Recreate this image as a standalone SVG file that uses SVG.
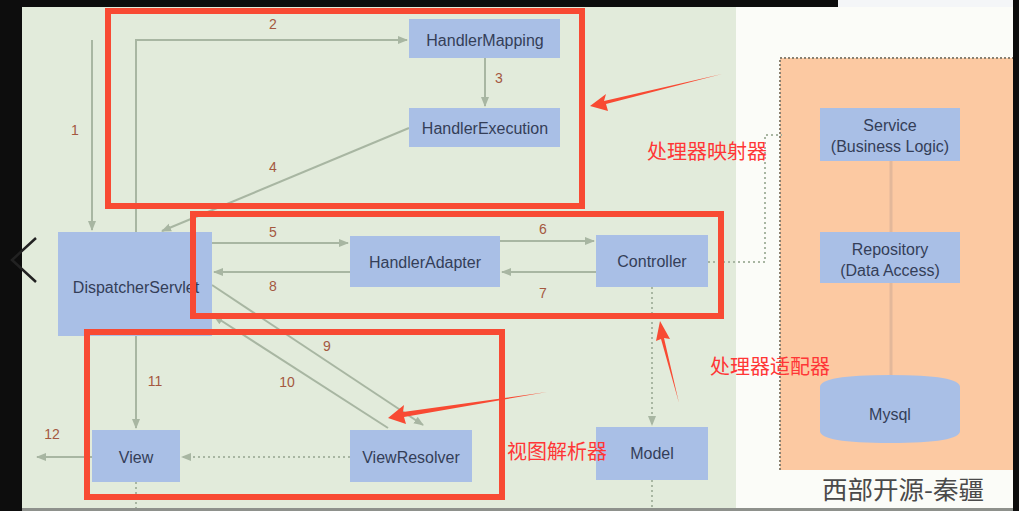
<svg xmlns="http://www.w3.org/2000/svg" width="1019" height="511" viewBox="0 0 1019 511">
<defs>
<style>
.node rect{fill:#a9bfe6;}
.lbl{font-family:"Liberation Sans",Arial,sans-serif;font-size:16px;fill:#343e58;text-anchor:middle;}
.num{font-family:"Liberation Sans",Arial,sans-serif;font-size:14px;fill:#a4583f;text-anchor:middle;}
.ln{stroke:#a8b6a2;stroke-width:2;fill:none;}
.dot{stroke:#a8b6a2;stroke-width:2;fill:none;stroke-dasharray:2 3;}
.red{fill:none;stroke:#f84a33;stroke-width:6;}
.cn{font-family:"Noto Sans CJK SC",sans-serif;font-size:20px;fill:#ff3636;}
</style>
<marker id="ah" viewBox="0 0 10 10" refX="9" refY="5" markerWidth="5" markerHeight="5" orient="auto"><path d="M0,1 L10,5 L0,9 z" fill="#a8b6a2"/></marker>
</defs>
<rect width="1019" height="511" fill="#0d0d0d"/>
<rect x="22" y="7" width="714" height="501" fill="#e2ebdb"/>
<rect x="736" y="7" width="277" height="501" fill="#fbfcf8"/>
<rect x="838" y="0" width="175" height="7" fill="#f4f6f8"/>
<rect x="780" y="58" width="233" height="412" fill="#fcc9a2"/>
<path d="M780,470 V58 H1013" fill="none" stroke="#8a8070" stroke-width="2" stroke-dasharray="2 2"/>
<rect x="22" y="508" width="991" height="3" fill="#8e918c"/>
<polyline points="36,238 12,260 36,282" fill="none" stroke="#222" stroke-width="2.5"/>

<g id="connectors">
<path class="ln" d="M92,40 V230" marker-end="url(#ah)"/>
<path class="ln" d="M136,232 V40 H407" marker-end="url(#ah)"/>
<path class="ln" d="M485,58 V106" marker-end="url(#ah)"/>
<path class="ln" d="M409,128 L162,231" marker-end="url(#ah)"/>
<path class="ln" d="M212,243 H348" marker-end="url(#ah)"/>
<path class="ln" d="M500,241 H594" marker-end="url(#ah)"/>
<path class="ln" d="M596,272 H502" marker-end="url(#ah)"/>
<path class="ln" d="M350,272 H214" marker-end="url(#ah)"/>
<path class="ln" d="M212,285 L423,425" marker-end="url(#ah)"/>
<path class="ln" d="M388,428 L214,316" marker-end="url(#ah)"/>
<path class="ln" d="M136,336 V428" marker-end="url(#ah)"/>
<path class="ln" d="M92,457 H37" marker-end="url(#ah)"/>
<path class="dot" d="M350,457 H182" marker-end="url(#ah)"/>
<path class="dot" d="M652,287 V425" marker-end="url(#ah)"/>
<path class="dot" d="M136,482 V508"/>
<path class="dot" d="M652,480 V508"/>
<path class="dot" d="M708,262 H765 V135 H782"/>
<path d="M891,161 V232 M891,283 V377" stroke="#e3b89a" stroke-width="3" fill="none"/>
</g>

<g id="n-handlermapping" class="node"><rect x="409" y="19" width="151" height="39"/><text class="lbl" x="485" y="46">HandlerMapping</text></g>
<g id="n-handlerexecution" class="node"><rect x="409" y="108" width="151" height="39"/><text class="lbl" x="485" y="134">HandlerExecution</text></g>
<g id="n-dispatcher" class="node"><rect x="58" y="232" width="154" height="104"/><text class="lbl" x="136" y="293">DispatcherServlet</text></g>
<g id="n-handleradapter" class="node"><rect x="350" y="236" width="150" height="51"/><text class="lbl" x="425" y="268">HandlerAdapter</text></g>
<g id="n-controller" class="node"><rect x="596" y="235" width="112" height="52"/><text class="lbl" x="652" y="267">Controller</text></g>
<g id="n-view" class="node"><rect x="92" y="430" width="88" height="52"/><text class="lbl" x="136" y="463">View</text></g>
<g id="n-viewresolver" class="node"><rect x="350" y="430" width="122" height="52"/><text class="lbl" x="411" y="463">ViewResolver</text></g>
<g id="n-model" class="node"><rect x="596" y="427" width="112" height="53"/><text class="lbl" x="652" y="459">Model</text></g>
<g id="n-service" class="node"><rect x="820" y="108" width="140" height="53"/><text class="lbl" x="890" y="131">Service</text><text class="lbl" x="890" y="152">(Business Logic)</text></g>
<g id="n-repository" class="node"><rect x="820" y="232" width="140" height="51"/><text class="lbl" x="890" y="255">Repository</text><text class="lbl" x="890" y="276">(Data Access)</text></g>
<g id="n-mysql" class="node"><path d="M820,387 Q820,375 890,375 Q960,375 960,387 V431 Q960,443 890,443 Q820,443 820,431 Z" fill="#a9bfe6"/><text class="lbl" x="890" y="420">Mysql</text></g>

<g id="numbers">
<text class="num" x="75" y="135">1</text>
<text class="num" x="273" y="29">2</text>
<text class="num" x="499" y="83">3</text>
<text class="num" x="273" y="172">4</text>
<text class="num" x="273" y="237">5</text>
<text class="num" x="543" y="234">6</text>
<text class="num" x="543" y="298">7</text>
<text class="num" x="273" y="291">8</text>
<text class="num" x="327" y="351">9</text>
<text class="num" x="287" y="387">10</text>
<text class="num" x="155" y="386">11</text>
<text class="num" x="52" y="439">12</text>
</g>

<g id="annotations">
<rect class="red" x="108" y="11" width="474" height="195"/>
<rect class="red" x="193" y="214" width="528" height="102"/>
<rect class="red" x="87" y="332" width="415" height="165"/>
<path d="M722,74 L604,101 L606,94 L590,106 L608,111 L606,104 Z" fill="#f84a33"/>
<path d="M679,403 L664,338 L670,339 L660,321 L656,341 L661,339 Z" fill="#f84a33"/>
<path d="M547,392 L403,412 L404,405 L388,418 L406,424 L404,417 Z" fill="#f84a33"/>
<text class="cn" x="647" y="159">处理器映射器</text>
<text class="cn" x="710" y="374">处理器适配器</text>
<text class="cn" x="507" y="459">视图解析器</text>
<text x="822" y="499" font-family="Noto Sans CJK SC,sans-serif" font-size="25" fill="#4a4a4a" textLength="162" lengthAdjust="spacingAndGlyphs">西部开源-秦疆</text>
</g>
</svg>
